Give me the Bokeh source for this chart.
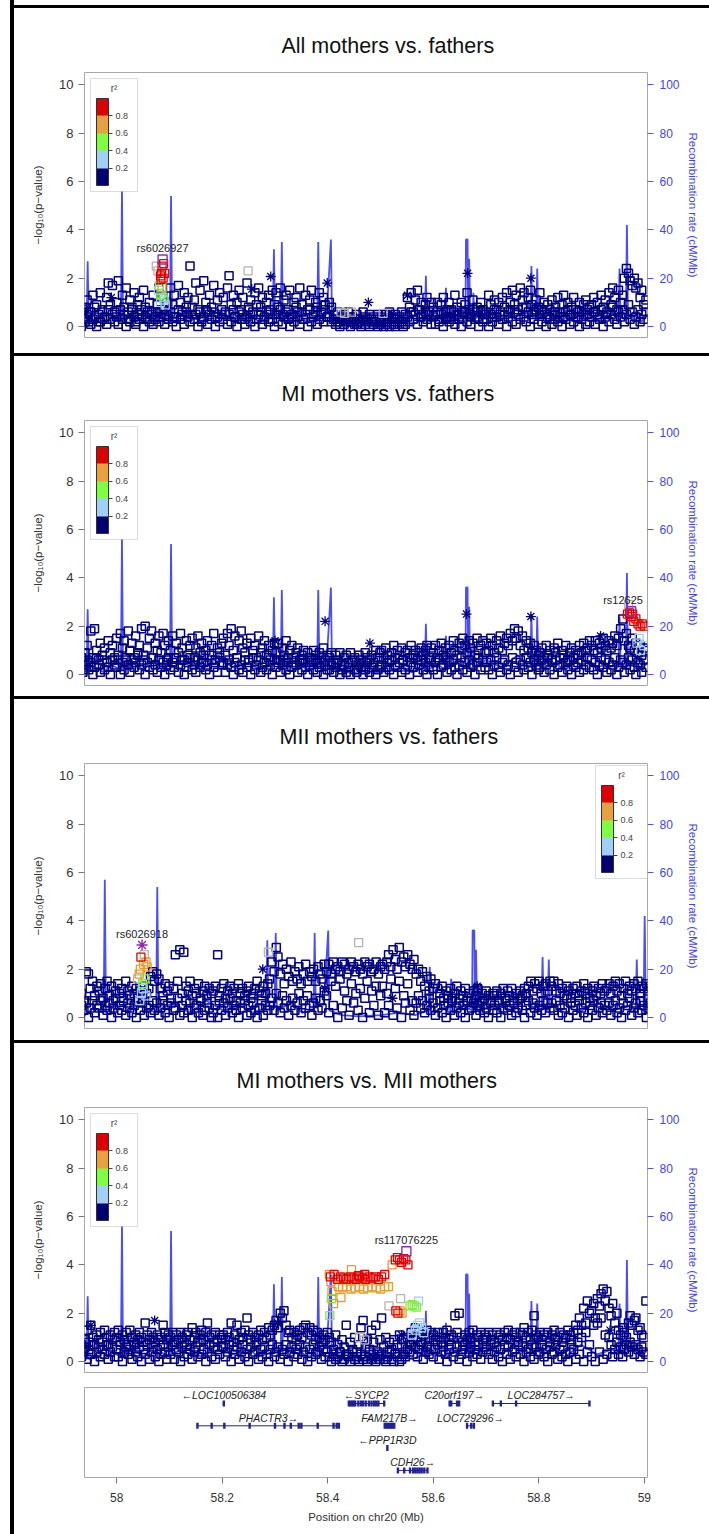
from bokeh.plotting import figure
from bokeh.models import (Range1d, LinearAxis, ColorBar, LinearColorMapper, FixedTicker,
                          Spacer, NumeralTickFormatter, BoxAnnotation, Label)
from bokeh.layouts import column, row
from bokeh.core.properties import value
from bokeh.embed import file_html
from bokeh.resources import INLINE

FONT = "Liberation Sans"
NAVY = "#000080"
CAT_COLORS = {"lightblue": "#9ecbf3", "green": "#7cf03c", "orange": "#eb9a2d",
              "red": "#e00000", "grey": "#b4b4b4"}
LEAD_COLOR = "#8e2bb0"
REC_COLOR = "#3a3af5"
R2_PALETTE = ["#000070", "#a0d0f8", "#80ff40", "#e8a040", "#dd0000"]

# ---------------- SNP positions (Mb, chr20), grouped by 0.1 Mb -------------
snp_pos = [
    [57.905, 57.909, 57.912, 57.917, 57.921, 57.924, 57.929, 57.933, 57.936, 57.940, 57.944, 57.947, 57.951,
     57.955, 57.958, 57.962, 57.966, 57.969, 57.973, 57.977, 57.981, 57.984, 57.988, 57.992, 57.996],
    [58.000, 58.003, 58.007, 58.011, 58.014, 58.018, 58.022, 58.025, 58.029, 58.033, 58.036, 58.040, 58.043,
     58.047, 58.051, 58.054, 58.058, 58.062, 58.066, 58.069, 58.073, 58.077, 58.080, 58.084, 58.088, 58.091,
     58.095, 58.098],
    [58.102, 58.106, 58.109, 58.113, 58.117, 58.121, 58.124, 58.128, 58.132, 58.135, 58.139, 58.143, 58.147,
     58.150, 58.154, 58.158, 58.161, 58.165, 58.169, 58.172, 58.176, 58.180, 58.184, 58.187, 58.191, 58.195, 58.199],
    [58.202, 58.206, 58.210, 58.213, 58.217, 58.221, 58.224, 58.228, 58.232, 58.236, 58.239, 58.243, 58.247,
     58.250, 58.254, 58.258, 58.262, 58.265, 58.269, 58.273, 58.276, 58.280, 58.284, 58.288, 58.291, 58.295, 58.299],
    [58.302, 58.306, 58.310, 58.314, 58.317, 58.321, 58.325, 58.328, 58.332, 58.336, 58.340, 58.343, 58.347,
     58.351, 58.354, 58.358, 58.362, 58.366, 58.369, 58.373, 58.377, 58.380, 58.384, 58.388, 58.392, 58.395, 58.399],
    [58.403, 58.407, 58.411, 58.415, 58.419, 58.423, 58.427, 58.431, 58.435, 58.439, 58.443, 58.447, 58.451,
     58.455, 58.459, 58.463, 58.467, 58.471, 58.475, 58.479, 58.483, 58.487, 58.491, 58.495, 58.499],
    [58.502, 58.506, 58.510, 58.513, 58.517, 58.521, 58.525, 58.528, 58.532, 58.536, 58.540, 58.543, 58.547,
     58.551, 58.555, 58.558, 58.562, 58.566, 58.570, 58.573, 58.577, 58.581, 58.585, 58.588, 58.592, 58.596],
    [58.600, 58.604, 58.608, 58.611, 58.615, 58.619, 58.623, 58.626, 58.630, 58.634, 58.638, 58.641, 58.645,
     58.649, 58.653, 58.656, 58.660, 58.664, 58.668, 58.671, 58.675, 58.679, 58.683, 58.686, 58.690, 58.694, 58.698],
    [58.701, 58.705, 58.709, 58.712, 58.716, 58.720, 58.724, 58.727, 58.731, 58.735, 58.739, 58.742, 58.746,
     58.750, 58.754, 58.757, 58.761, 58.765, 58.769, 58.772, 58.776, 58.780, 58.784, 58.787, 58.791, 58.795, 58.799],
    [58.802, 58.806, 58.810, 58.814, 58.817, 58.821, 58.825, 58.829, 58.832, 58.836, 58.840, 58.844, 58.847,
     58.851, 58.855, 58.859, 58.862, 58.866, 58.870, 58.874, 58.877, 58.881, 58.885, 58.889, 58.892, 58.896],
    [58.900, 58.904, 58.907, 58.911, 58.915, 58.918, 58.922, 58.926, 58.929, 58.933, 58.937, 58.940, 58.944,
     58.948, 58.951, 58.955, 58.959, 58.962, 58.966, 58.970, 58.973, 58.977, 58.981, 58.984, 58.988, 58.992,
     58.995, 58.999, 59.003],
]

# ---------------- recombination rate (cM/Mb) -------------------------------
rec_pos = [57.900, 57.920, 57.943, 57.945, 57.947, 57.960, 57.975, 57.990, 58.008, 58.010, 58.012, 58.030,
           58.050, 58.070, 58.090, 58.101, 58.103, 58.105, 58.130, 58.160, 58.190, 58.220, 58.250, 58.270,
           58.296, 58.298, 58.300, 58.311, 58.313, 58.315, 58.340, 58.360, 58.380, 58.382, 58.384, 58.398,
           58.402, 58.406, 58.408, 58.430, 58.460, 58.500, 58.530, 58.560, 58.584, 58.586, 58.588, 58.610,
           58.622, 58.624, 58.626, 58.645, 58.661, 58.662, 58.665, 58.666, 58.667, 58.668, 58.670, 58.675,
           58.676, 58.678, 58.700, 58.730, 58.760, 58.784, 58.786, 58.788, 58.795, 58.797, 58.799, 58.820,
           58.850, 58.880, 58.910, 58.940, 58.951, 58.953, 58.955, 58.965, 58.967, 58.969, 58.980, 58.995,
           59.006, 59.030]
rec_rate = [3, 5, 1, 27, 1, 3, 1, 4, 2, 57, 2, 5,
            2, 6, 3, 2, 54, 3, 6, 2, 7, 3, 5, 2,
            4, 32, 5, 4, 35, 3, 6, 2, 3, 35, 4, 6,
            20, 36, 3, 1, 0.5, 1, 2, 1, 3, 21, 2, 4,
            2, 16, 2, 5, 3, 36, 36, 3, 4, 28, 3, 2,
            14, 3, 6, 3, 8, 3, 25, 4, 3, 24, 4, 6,
            2, 7, 3, 5, 3, 24, 4, 3, 42, 4, 6, 2,
            5, 3]

# ---------------- Panel 1: All mothers vs. fathers ------------------------
p1_top = [
    [0.3, 0.5, 0.2, 0.7, 0.4, 0.9, 0.1, 0.6, 0.3, 0.8, 1.1, 0.2, 0.6, 1.3, 0.4, 0.9, 0.2, 1.4, 0.7, 0.3, 1.2, 1.8, 0.9, 1.7, 0.6],
    [1.0, 1.9, 0.5, 1.3, 0.8, 1.6, 0.3, 1.1, 0.7, 1.4, 0.2, 0.9, 1.2, 0.5, 1.5, 0.8, 0.3, 1.0, 0.6, 1.3, 0.4, 0.9, 1.6, 0.7, 1.2, 0.5, 1.0, 0.3],
    [1.6, 0.9, 1.3, 0.4, 1.7, 1.0, 0.6, 1.4, 0.8, 1.2, 2.5, 0.5, 1.1, 1.8, 0.7, 1.5, 0.3, 1.9, 1.0, 0.6, 1.3, 0.8, 1.7, 0.4, 1.1, 1.4, 0.7],
    [1.2, 0.5, 1.6, 2.1, 0.9, 1.3, 0.4, 1.0, 1.5, 0.7, 1.2, 0.3, 1.8, 0.8, 1.1, 0.5, 1.4, 0.9, 1.6, 0.6, 1.2, 0.3, 1.0, 1.3, 0.7, 1.5, 0.9],
    [1.4, 0.8, 1.6, 0.5, 1.1, 1.3, 0.7, 1.5, 0.4, 1.0, 1.2, 0.6, 1.6, 0.9, 0.3, 1.3, 0.7, 1.1, 1.5, 0.5, 1.0, 0.8, 1.4, 0.6, 1.2, 0.9, 0.4],
    [1.0, 0.8, 0.5, 0.3, 0.6, 0.2, 0.4, 0.5, 0.3, 0.6, 0.2, 0.4, 0.1, 0.5, 0.3, 0.2, 0.6, 0.4, 0.3, 0.5, 0.2, 0.4, 0.3, 0.5, 0.2],
    [0.4, 0.3, 0.5, 0.2, 0.6, 0.4, 0.3, 0.5, 0.2, 0.4, 0.6, 0.3, 0.5, 1.2, 0.8, 1.4, 0.6, 1.1, 1.5, 0.7, 1.0, 0.5, 0.9, 1.2, 0.6, 1.0],
    [0.8, 0.5, 1.0, 0.3, 0.9, 1.2, 0.6, 0.4, 1.0, 0.7, 0.3, 1.3, 0.8, 0.5, 1.0, 0.6, 0.9, 1.4, 0.7, 0.4, 1.1, 0.6, 0.8, 0.3, 1.0, 0.7, 0.5],
    [0.6, 1.3, 0.9, 0.4, 1.1, 0.7, 1.0, 0.5, 1.2, 0.8, 1.4, 0.6, 1.0, 1.5, 0.9, 1.3, 0.7, 1.6, 1.1, 1.4, 0.8, 1.2, 1.5, 0.9, 0.6, 1.1, 0.8],
    [1.4, 0.7, 1.0, 0.5, 0.9, 0.3, 1.1, 0.6, 0.8, 1.2, 0.4, 0.9, 1.3, 0.6, 1.0, 0.5, 0.8, 1.2, 0.7, 0.4, 1.0, 0.6, 0.9, 1.1, 0.5, 0.8],
    [0.9, 1.2, 0.6, 1.0, 0.4, 1.3, 0.8, 1.1, 0.5, 1.4, 0.9, 1.6, 1.2, 0.7, 1.5, 1.0, 1.3, 2.0, 2.4, 2.2, 1.9, 1.7, 2.0, 1.6, 1.8, 1.2, 1.5, 0.9, 1.1],
]
p1_low = [
    [0.2, 0.0, 0.4, 0.1, 0.6, 0.3, 0.5, 0.0, 0.7, 0.2, 0.4, 0.6, 0.1, 0.3, 0.8, 0.0, 0.5, 0.2, 0.6, 0.4, 0.1, 0.7, 0.3, 0.5, 0.2],
    [0.4, 0.1, 0.7, 0.3, 0.5, 0.0, 0.6, 0.2, 0.8, 0.4, 0.1, 0.5, 0.3, 0.7, 0.0, 0.4, 0.6, 0.2, 0.5, 0.1, 0.3, 0.6, 0.2, 0.4, 0.7, 0.1, 0.5, 0.3],
    [0.6, 0.2, 0.4, 0.0, 0.7, 0.3, 0.5, 0.1, 0.6, 0.4, 0.2, 0.8, 0.3, 0.5, 0.0, 0.6, 0.2, 0.4, 0.7, 0.1, 0.5, 0.3, 0.6, 0.0, 0.4, 0.2, 0.5],
    [0.3, 0.6, 0.1, 0.5, 0.2, 0.7, 0.4, 0.0, 0.6, 0.3, 0.5, 0.1, 0.4, 0.7, 0.2, 0.6, 0.0, 0.3, 0.5, 0.8, 0.1, 0.4, 0.6, 0.2, 0.5, 0.3, 0.0],
    [0.5, 0.2, 0.7, 0.1, 0.4, 0.6, 0.3, 0.0, 0.5, 0.2, 0.8, 0.4, 0.1, 0.6, 0.3, 0.5, 0.0, 0.7, 0.2, 0.4, 0.6, 0.1, 0.3, 0.5, 0.2, 0.7, 0.4],
    [0.4, 0.2, 0.3, 0.1, 0.2, 0.0, 0.3, 0.1, 0.2, 0.4, 0.0, 0.2, 0.3, 0.1, 0.2, 0.0, 0.3, 0.1, 0.2, 0.0, 0.3, 0.1, 0.2, 0.0, 0.1],
    [0.2, 0.0, 0.1, 0.3, 0.0, 0.2, 0.1, 0.0, 0.3, 0.1, 0.2, 0.0, 0.1, 0.4, 0.2, 0.6, 0.3, 0.5, 0.1, 0.7, 0.4, 0.2, 0.6, 0.3, 0.5, 0.1],
    [0.4, 0.1, 0.6, 0.2, 0.5, 0.0, 0.3, 0.7, 0.2, 0.4, 0.6, 0.1, 0.5, 0.3, 0.0, 0.4, 0.6, 0.2, 0.5, 0.1, 0.7, 0.3, 0.4, 0.0, 0.6, 0.2, 0.5],
    [0.3, 0.0, 0.5, 0.2, 0.7, 0.4, 0.1, 0.6, 0.3, 0.5, 0.0, 0.4, 0.7, 0.2, 0.6, 0.1, 0.5, 0.3, 0.8, 0.4, 0.2, 0.6, 0.0, 0.5, 0.3, 0.7, 0.1],
    [0.5, 0.2, 0.6, 0.0, 0.4, 0.7, 0.1, 0.3, 0.5, 0.2, 0.6, 0.0, 0.4, 0.3, 0.7, 0.1, 0.5, 0.2, 0.4, 0.6, 0.0, 0.3, 0.5, 0.1, 0.7, 0.2],
    [0.4, 0.6, 0.1, 0.5, 0.3, 0.7, 0.0, 0.4, 0.6, 0.2, 0.5, 0.8, 0.3, 0.1, 0.6, 0.4, 0.7, 0.2, 0.5, 0.9, 0.3, 0.6, 0.1, 0.4, 0.7, 0.2, 0.5, 0.3, 0.6],
]
p1_ld_x = [58.083, 58.085, 58.089, 58.091, 58.084, 58.088, 58.086, 58.075, 58.078, 58.081, 58.084, 58.088,
           58.079, 58.083, 58.090, 58.092, 58.086, 58.249, 58.425, 58.432, 58.445, 58.505]
p1_ld_y = [2.1, 2.2, 2.6, 2.2, 1.95, 2.0, 2.5, 2.5, 2.3, 1.7, 1.3, 1.2,
           1.5, 1.0, 1.1, 0.9, 1.6, 2.3, 0.6, 0.55, 0.6, 0.55]
p1_ld_cat = ["red"] * 7 + ["grey", "grey", "green", "green", "green",
                           "lightblue", "lightblue", "lightblue", "lightblue", "orange", "grey", "grey", "grey", "grey", "grey"]
p1_star_x = [58.256, 58.292, 58.399, 58.477, 58.520, 58.551, 58.665, 58.785, 57.990]
p1_star_y = [1.55, 2.07, 1.8, 1.0, 0.5, 1.3, 2.2, 2.0, 1.2]
p1_lead = ("rs6026927", 58.087, 2.77, "square")

# ---------------- Panel 2: MI mothers vs. fathers -------------------------
p2_top = [
    [0.5, 0.8, 0.3, 0.9, 0.6, 1.0, 0.4, 0.7, 0.2, 0.9, 1.2, 0.5, 1.8, 0.7, 1.9, 1.0, 0.6, 1.3, 0.8, 1.1, 0.5, 1.4, 0.9, 1.2, 0.7],
    [1.5, 0.8, 1.7, 1.1, 1.4, 0.6, 1.8, 1.0, 1.3, 0.7, 1.6, 0.9, 1.2, 1.9, 0.8, 2.0, 1.1, 1.5, 1.8, 0.7, 1.3, 1.0, 1.6, 0.9, 1.7, 1.2, 0.6, 1.4],
    [1.0, 1.6, 0.7, 1.3, 0.9, 1.7, 1.1, 0.6, 1.4, 0.8, 1.2, 1.5, 0.7, 1.1, 1.6, 0.9, 1.3, 0.5, 1.0, 1.4, 0.8, 1.2, 1.7, 0.6, 1.1, 0.9, 1.3],
    [1.5, 0.8, 1.7, 1.2, 1.9, 1.0, 1.6, 0.7, 1.4, 1.8, 1.1, 0.9, 1.3, 0.6, 1.5, 1.0, 1.2, 0.7, 1.6, 0.9, 1.1, 1.4, 0.8, 1.2, 0.6, 1.0, 1.3],
    [0.9, 1.3, 0.6, 1.1, 0.8, 1.4, 0.7, 1.0, 1.2, 0.5, 0.9, 1.1, 0.6, 0.8, 1.0, 0.5, 0.9, 0.7, 0.6, 1.0, 0.8, 0.5, 0.9, 0.7, 1.1, 0.6, 0.8],
    [0.7, 0.9, 0.5, 0.8, 0.6, 0.9, 0.4, 0.7, 0.8, 0.5, 0.9, 0.6, 0.7, 0.4, 0.8, 0.6, 0.5, 0.9, 0.7, 0.6, 0.8, 0.5, 1.0, 0.7, 0.9],
    [1.0, 0.7, 1.1, 0.8, 0.6, 0.9, 1.2, 0.7, 1.0, 0.8, 1.1, 0.6, 0.9, 1.0, 0.7, 1.2, 0.8, 1.0, 0.6, 0.9, 1.1, 0.8, 1.0, 1.2, 0.7, 1.1],
    [0.9, 1.2, 0.7, 1.0, 1.3, 0.8, 1.1, 0.6, 1.2, 0.9, 1.4, 1.0, 0.8, 1.3, 1.1, 1.5, 1.2, 0.9, 1.4, 1.1, 1.3, 0.8, 1.5, 1.0, 1.2, 1.4, 0.9],
    [1.3, 1.0, 1.5, 1.2, 0.9, 1.4, 1.1, 1.6, 1.0, 1.3, 1.5, 1.2, 1.7, 1.4, 1.9, 1.5, 1.8, 1.2, 1.6, 1.0, 1.4, 1.1, 1.3, 0.9, 1.2, 1.0, 0.8],
    [0.9, 1.1, 0.7, 1.2, 0.8, 1.0, 0.6, 1.1, 0.9, 1.3, 0.7, 1.0, 0.8, 1.2, 0.6, 0.9, 1.1, 0.7, 1.0, 0.8, 1.2, 0.9, 1.3, 1.0, 1.1, 1.4],
    [1.2, 1.0, 1.4, 0.9, 1.3, 1.1, 1.5, 1.2, 1.0, 1.4, 1.1, 1.3, 1.6, 1.2, 1.5, 1.9, 2.3, 1.4, 1.7, 1.2, 1.1, 1.5, 1.0, 1.3, 0.9, 1.2, 0.8, 1.1, 1.0],
]
p2_low = [
    [0.1, 0.4, 0.2, 0.6, 0.0, 0.5, 0.3, 0.7, 0.1, 0.4, 0.6, 0.2, 0.5, 0.0, 0.3, 0.7, 0.4, 0.1, 0.6, 0.2, 0.5, 0.3, 0.0, 0.6, 0.4],
    [0.3, 0.6, 0.0, 0.5, 0.2, 0.7, 0.4, 0.1, 0.6, 0.3, 0.5, 0.8, 0.2, 0.4, 0.6, 0.0, 0.5, 0.3, 0.7, 0.2, 0.4, 0.1, 0.6, 0.3, 0.5, 0.0, 0.4, 0.7],
    [0.2, 0.5, 0.3, 0.7, 0.1, 0.4, 0.6, 0.0, 0.3, 0.5, 0.7, 0.2, 0.4, 0.1, 0.6, 0.3, 0.5, 0.8, 0.2, 0.4, 0.0, 0.6, 0.3, 0.5, 0.1, 0.7, 0.4],
    [0.5, 0.1, 0.4, 0.6, 0.3, 0.0, 0.5, 0.7, 0.2, 0.4, 0.1, 0.6, 0.3, 0.5, 0.0, 0.7, 0.2, 0.4, 0.6, 0.1, 0.3, 0.5, 0.2, 0.7, 0.4, 0.0, 0.6],
    [0.3, 0.5, 0.1, 0.4, 0.6, 0.2, 0.5, 0.0, 0.3, 0.7, 0.4, 0.1, 0.5, 0.2, 0.6, 0.3, 0.0, 0.4, 0.5, 0.2, 0.6, 0.1, 0.3, 0.5, 0.0, 0.4, 0.2],
    [0.2, 0.4, 0.1, 0.3, 0.5, 0.0, 0.2, 0.4, 0.1, 0.3, 0.0, 0.5, 0.2, 0.1, 0.4, 0.3, 0.0, 0.2, 0.5, 0.1, 0.3, 0.4, 0.0, 0.2, 0.3],
    [0.4, 0.1, 0.3, 0.5, 0.2, 0.6, 0.0, 0.4, 0.3, 0.5, 0.1, 0.6, 0.2, 0.4, 0.0, 0.5, 0.3, 0.7, 0.1, 0.4, 0.6, 0.2, 0.5, 0.0, 0.3, 0.6],
    [0.2, 0.5, 0.0, 0.6, 0.3, 0.4, 0.7, 0.1, 0.5, 0.2, 0.6, 0.3, 0.0, 0.4, 0.7, 0.2, 0.5, 0.1, 0.6, 0.3, 0.4, 0.0, 0.5, 0.7, 0.2, 0.6, 0.3],
    [0.5, 0.2, 0.6, 0.0, 0.4, 0.7, 0.3, 0.1, 0.5, 0.6, 0.2, 0.4, 0.0, 0.7, 0.3, 0.5, 0.1, 0.6, 0.4, 0.2, 0.7, 0.3, 0.5, 0.0, 0.6, 0.4, 0.2],
    [0.3, 0.6, 0.1, 0.4, 0.7, 0.2, 0.5, 0.0, 0.6, 0.3, 0.4, 0.1, 0.7, 0.5, 0.2, 0.6, 0.0, 0.4, 0.3, 0.5, 0.1, 0.6, 0.2, 0.4, 0.7, 0.3],
    [0.6, 0.2, 0.5, 0.0, 0.4, 0.7, 0.3, 0.6, 0.1, 0.5, 0.2, 0.4, 0.7, 0.0, 0.3, 0.6, 0.5, 0.1, 0.4, 0.7, 0.2, 0.6, 0.3, 0.0, 0.5, 0.4, 0.1, 0.6, 0.3],
]
p2_ld_x = [58.968, 58.972, 58.976, 58.980, 58.984, 58.988, 58.992, 58.996, 59.000, 58.978, 58.970,
           58.986, 58.993, 58.999, 58.990]
p2_ld_y = [2.5, 2.55, 2.4, 2.2, 2.3, 2.1, 2.0, 2.1, 2.0, 2.5, 2.9, 1.3, 1.0, 1.2, 1.5]
p2_ld_cat = ["red"] * 10 + ["grey", "lightblue", "lightblue", "lightblue", "lightblue"]
p2_star_x = [58.395, 58.480, 58.663, 58.785, 58.917, 58.300]
p2_star_y = [2.2, 1.3, 2.5, 2.4, 1.6, 1.4]
p2_lead = ("rs12625", 58.975, 2.62, "square")

# ---------------- Panel 3: MII mothers vs. fathers ------------------------
p3_top = [
    [0.5, 0.8, 0.4, 0.9, 0.6, 1.0, 0.3, 0.7, 0.5, 0.8, 1.0, 0.4, 0.9, 0.6, 1.1, 0.5, 0.8, 1.0, 0.7, 1.9, 1.8, 1.2, 1.5, 0.9, 1.3],
    [1.1, 1.4, 0.8, 1.2, 1.5, 0.9, 1.3, 0.7, 1.1, 1.4, 1.0, 1.2, 0.8, 1.5, 1.1, 0.9, 1.3, 1.0, 1.2, 0.8, 1.1, 0.9, 1.3, 1.0, 1.2, 1.7, 1.9, 1.5],
    [1.8, 1.6, 1.2, 0.9, 1.4, 1.1, 1.3, 0.8, 1.2, 2.6, 1.5, 2.8, 1.0, 2.7, 1.3, 1.1, 1.5, 0.9, 1.2, 1.0, 1.4, 0.8, 1.1, 1.3, 0.9, 1.2, 1.0],
    [1.1, 1.3, 2.6, 0.9, 1.2, 1.4, 0.8, 1.1, 1.3, 1.0, 1.2, 0.7, 1.4, 1.0, 1.2, 0.9, 1.1, 1.3, 0.8, 1.0, 1.2, 1.5, 1.1, 0.9, 1.3, 1.0, 1.4],
    [1.6, 2.3, 1.9, 2.9, 2.5, 1.8, 2.2, 1.4, 2.0, 1.7, 2.3, 1.5, 1.9, 1.6, 2.1, 1.4, 1.8, 2.2, 1.5, 1.9, 1.7, 2.0, 1.5, 2.1, 1.8, 1.6, 2.2],
    [1.9, 2.2, 1.8, 2.3, 2.0, 2.1, 1.9, 2.3, 2.2, 1.8, 2.0, 2.3, 2.1, 1.9, 2.2, 2.0, 1.8, 2.3, 2.1, 2.2, 1.9, 2.0, 2.3, 1.8, 2.1],
    [2.2, 2.0, 2.3, 2.6, 2.1, 2.8, 2.4, 2.0, 2.9, 2.3, 2.5, 2.1, 2.6, 2.2, 2.0, 2.4, 1.8, 2.0, 1.5, 1.9, 1.3, 1.7, 1.1, 1.6, 1.2, 1.4],
    [1.2, 1.0, 1.3, 0.8, 1.1, 0.9, 1.2, 0.7, 1.0, 1.3, 0.8, 1.1, 0.9, 1.2, 0.7, 1.0, 0.8, 1.1, 0.9, 1.2, 0.6, 1.0, 0.8, 1.1, 0.9, 0.7, 1.0],
    [0.9, 1.1, 0.7, 1.0, 1.2, 0.8, 1.1, 0.9, 1.2, 0.7, 1.0, 0.8, 1.1, 0.9, 1.2, 1.0, 1.3, 1.5, 1.1, 1.4, 1.2, 1.5, 1.0, 1.3, 1.4, 1.1, 1.5],
    [1.3, 1.5, 1.1, 1.4, 1.0, 1.2, 0.9, 1.3, 1.1, 0.8, 1.2, 1.0, 1.3, 0.9, 1.1, 1.4, 1.0, 1.2, 0.8, 1.1, 1.3, 0.9, 1.2, 1.0, 1.4, 1.1],
    [1.2, 1.4, 1.0, 1.3, 1.5, 1.1, 1.4, 0.9, 1.2, 1.5, 1.0, 1.3, 1.1, 1.4, 1.2, 1.5, 1.0, 1.3, 1.2, 1.4, 1.1, 1.3, 1.0, 1.2, 0.9, 1.1, 0.8, 1.0, 0.9],
]
p3_low = [
    [0.3, 0.0, 0.5, 0.2, 0.6, 0.1, 0.4, 0.7, 0.2, 0.5, 0.0, 0.3, 0.6, 0.4, 0.1, 0.7, 0.2, 0.5, 0.3, 0.6, 0.0, 0.4, 0.7, 0.2, 0.5],
    [0.4, 0.7, 0.1, 0.5, 0.3, 0.6, 0.0, 0.4, 0.8, 0.2, 0.5, 0.3, 0.7, 0.1, 0.6, 0.4, 0.2, 0.5, 0.0, 0.7, 0.3, 0.6, 0.1, 0.4, 0.5, 0.2, 0.7, 0.3],
    [0.6, 0.1, 0.4, 0.7, 0.2, 0.5, 0.0, 0.6, 0.3, 0.4, 0.8, 0.1, 0.5, 0.2, 0.7, 0.3, 0.6, 0.0, 0.4, 0.5, 0.2, 0.7, 0.1, 0.3, 0.6, 0.4, 0.0],
    [0.2, 0.5, 0.0, 0.7, 0.3, 0.6, 0.1, 0.4, 0.8, 0.2, 0.5, 0.3, 0.0, 0.6, 0.4, 0.7, 0.1, 0.5, 0.2, 0.6, 0.3, 0.0, 0.4, 0.7, 0.1, 0.5, 0.3],
    [0.5, 0.8, 0.3, 1.0, 0.6, 0.2, 0.9, 0.4, 0.7, 0.1, 0.5, 0.8, 0.3, 0.6, 1.0, 0.2, 0.7, 0.4, 0.9, 0.5, 0.1, 0.6, 0.8, 0.3, 0.7, 0.4, 1.1],
    [0.9, 0.2, 1.5, 0.5, 1.3, 0.0, 1.6, 0.4, 1.1, 0.7, 0.1, 1.4, 0.6, 1.0, 0.3, 1.2, 0.0, 0.8, 1.5, 0.2, 1.1, 0.5, 1.3, 0.1, 0.9],
    [1.3, 0.2, 1.0, 0.5, 1.6, 0.1, 1.2, 0.4, 1.5, 0.0, 0.9, 0.6, 1.4, 0.3, 0.7, 0.1, 0.6, 0.9, 0.4, 0.7, 0.2, 0.5, 0.8, 0.3, 0.6, 0.1],
    [0.4, 0.7, 0.2, 0.5, 0.0, 0.6, 0.3, 0.8, 0.1, 0.4, 0.6, 0.2, 0.5, 0.0, 0.7, 0.3, 0.4, 0.6, 0.1, 0.5, 0.3, 0.7, 0.2, 0.4, 0.0, 0.6, 0.3],
    [0.5, 0.2, 0.6, 0.0, 0.4, 0.7, 0.3, 0.5, 0.1, 0.6, 0.2, 0.4, 0.8, 0.3, 0.0, 0.5, 0.7, 0.2, 0.6, 0.4, 0.1, 0.5, 0.3, 0.7, 0.2, 0.6, 0.4],
    [0.6, 0.3, 0.7, 0.1, 0.5, 0.2, 0.4, 0.8, 0.0, 0.6, 0.3, 0.5, 0.1, 0.7, 0.4, 0.2, 0.6, 0.0, 0.5, 0.3, 0.7, 0.1, 0.4, 0.6, 0.2, 0.5],
    [0.3, 0.6, 0.1, 0.5, 0.7, 0.2, 0.4, 0.0, 0.6, 0.3, 0.5, 0.8, 0.1, 0.4, 0.6, 0.2, 0.7, 0.3, 0.5, 0.0, 0.4, 0.6, 0.2, 0.5, 0.3, 0.1, 0.6, 0.4, 0.2],
]
p3_ld_x = [58.073, 58.079, 58.083, 58.085, 58.071, 58.080, 58.068, 58.077, 58.081, 58.078, 58.072,
           58.083, 58.075, 58.074, 58.460, 58.300]
p3_ld_y = [2.0, 2.2, 2.3, 2.1, 1.8, 2.6, 1.6, 1.4, 1.6, 1.2, 0.7, 0.9, 1.0, 2.5, 3.1, 2.7]
p3_ld_cat = ["orange"] * 5 + ["grey", "grey", "green", "green",
                              "lightblue", "lightblue", "lightblue", "lightblue", "red", "grey", "grey"]
p3_star_x = [58.290, 58.400, 58.670, 58.520]
p3_star_y = [2.0, 1.2, 1.3, 0.8]
p3_lead = ("rs6026918", 58.076, 3.0, "asterisk")

# ---------------- Panel 4: MI mothers vs. MII mothers ---------------------
p4_top = [
    [0.5, 0.7, 0.4, 0.8, 0.6, 0.9, 0.3, 0.7, 0.5, 0.9, 1.3, 0.8, 1.5, 1.0, 0.7, 1.1, 0.9, 1.2, 0.8, 1.3, 1.0, 0.7, 1.1, 0.9, 1.2],
    [1.0, 1.3, 0.8, 1.1, 0.9, 1.2, 0.7, 1.3, 1.0, 0.8, 1.1, 0.9, 1.2, 1.0, 0.8, 1.6, 1.1, 0.9, 1.2, 1.0, 0.8, 1.1, 0.9, 1.0, 1.5, 1.2, 0.9, 1.1],
    [1.0, 1.2, 0.8, 1.1, 0.9, 1.2, 1.0, 0.8, 1.1, 1.2, 0.9, 1.4, 1.0, 1.2, 0.8, 1.1, 1.3, 0.9, 1.2, 1.6, 1.0, 1.1, 0.8, 1.2, 0.9, 1.1, 1.0],
    [1.1, 0.9, 1.2, 1.0, 1.6, 0.8, 1.1, 1.5, 0.9, 1.2, 1.0, 1.3, 1.8, 1.1, 0.9, 1.2, 1.0, 0.8, 1.1, 1.3, 0.9, 1.2, 1.0, 1.4, 1.1, 1.3, 1.5],
    [1.7, 1.4, 2.0, 1.8, 2.1, 1.5, 1.2, 1.3, 1.0, 1.2, 0.9, 1.1, 1.3, 1.0, 1.4, 1.5, 1.2, 1.4, 1.1, 1.3, 0.9, 1.2, 1.0, 0.8, 1.1, 0.9, 1.2],
    [1.0, 0.8, 0.5, 1.1, 0.7, 0.4, 0.9, 0.6, 1.5, 0.3, 0.8, 0.5, 1.0, 0.4, 0.7, 1.4, 1.7, 0.6, 0.9, 0.5, 1.3, 0.8, 1.5, 0.4, 0.9],
    [1.8, 0.6, 1.0, 0.4, 0.8, 0.5, 0.9, 0.3, 0.7, 1.1, 0.6, 0.9, 0.4, 1.0, 0.8, 1.2, 0.9, 1.4, 1.0, 1.2, 0.8, 1.1, 0.9, 1.3, 1.0, 1.2],
    [1.1, 0.9, 1.2, 1.0, 0.8, 1.2, 1.0, 1.3, 0.9, 1.1, 1.0, 1.9, 1.2, 2.0, 1.0, 0.8, 1.1, 0.9, 1.2, 1.0, 1.3, 0.8, 1.1, 1.0, 1.2, 0.9, 1.1],
    [1.0, 1.2, 0.9, 1.1, 0.8, 1.2, 1.0, 1.1, 0.9, 1.2, 1.0, 1.3, 0.9, 1.1, 1.2, 1.0, 0.8, 1.2, 1.1, 1.4, 1.0, 1.2, 0.9, 1.3, 1.9, 1.1, 1.0],
    [1.2, 0.9, 1.1, 1.0, 1.2, 0.8, 1.1, 1.3, 0.9, 1.0, 1.2, 0.8, 1.1, 1.0, 1.3, 1.1, 0.9, 1.2, 1.5, 1.3, 1.8, 1.5, 2.2, 1.6, 2.5, 2.0],
    [2.1, 2.4, 1.8, 2.6, 2.3, 2.8, 3.0, 2.5, 2.9, 2.2, 1.9, 2.4, 1.6, 2.0, 1.3, 1.1, 1.4, 1.2, 1.0, 1.6, 1.9, 1.5, 1.7, 1.8, 1.3, 1.4, 1.1, 1.0, 2.5],
]
p4_low = [
    [0.4, 0.1, 0.6, 0.3, 0.5, 0.0, 0.7, 0.2, 0.4, 0.6, 0.1, 0.5, 0.3, 0.7, 0.0, 0.4, 0.6, 0.2, 0.5, 0.3, 0.7, 0.1, 0.4, 0.6, 0.2],
    [0.5, 0.2, 0.7, 0.0, 0.4, 0.6, 0.3, 0.5, 0.1, 0.7, 0.4, 0.2, 0.6, 0.0, 0.5, 0.3, 0.7, 0.1, 0.4, 0.6, 0.2, 0.5, 0.0, 0.3, 0.7, 0.4, 0.1, 0.6],
    [0.3, 0.7, 0.1, 0.5, 0.4, 0.0, 0.6, 0.2, 0.7, 0.3, 0.5, 0.1, 0.4, 0.6, 0.2, 0.8, 0.3, 0.5, 0.0, 0.4, 0.7, 0.2, 0.6, 0.1, 0.5, 0.3, 0.6],
    [0.6, 0.2, 0.4, 0.7, 0.0, 0.5, 0.3, 0.6, 0.1, 0.4, 0.7, 0.2, 0.5, 0.0, 0.6, 0.3, 0.4, 0.7, 0.1, 0.5, 0.2, 0.6, 0.3, 0.0, 0.5, 0.7, 0.2],
    [0.4, 0.6, 0.1, 0.5, 0.3, 0.7, 0.0, 0.4, 0.6, 0.2, 0.5, 0.3, 0.7, 0.1, 0.4, 0.6, 0.0, 0.5, 0.2, 0.7, 0.3, 0.4, 0.6, 0.1, 0.5, 0.2, 0.4],
    [0.2, 0.0, 0.3, 0.1, 0.2, 0.4, 0.0, 0.1, 0.3, 0.2, 0.0, 0.4, 0.1, 0.2, 0.0, 0.3, 0.1, 0.2, 0.0, 0.4, 0.1, 0.3, 0.0, 0.2, 0.1],
    [0.3, 0.1, 0.0, 0.2, 0.4, 0.1, 0.0, 0.3, 0.2, 0.0, 0.1, 0.3, 0.2, 0.5, 0.4, 0.7, 0.3, 0.6, 0.2, 0.5, 0.7, 0.1, 0.4, 0.6, 0.3, 0.5],
    [0.2, 0.5, 0.7, 0.1, 0.4, 0.6, 0.3, 0.0, 0.5, 0.7, 0.2, 0.4, 0.6, 0.1, 0.3, 0.5, 0.7, 0.0, 0.4, 0.6, 0.2, 0.5, 0.3, 0.7, 0.1, 0.4, 0.6],
    [0.5, 0.3, 0.7, 0.1, 0.4, 0.6, 0.2, 0.5, 0.0, 0.7, 0.3, 0.6, 0.1, 0.4, 0.5, 0.2, 0.7, 0.3, 0.6, 0.0, 0.4, 0.5, 0.2, 0.7, 0.1, 0.6, 0.3],
    [0.4, 0.7, 0.2, 0.5, 0.0, 0.6, 0.3, 0.4, 0.7, 0.1, 0.5, 0.2, 0.6, 0.3, 0.0, 0.4, 0.7, 0.5, 0.1, 0.8, 0.3, 1.0, 0.0, 1.2, 0.4, 0.7],
    [0.2, 1.5, 0.0, 1.6, 0.4, 1.8, 0.1, 1.1, 0.3, 1.0, 0.7, 0.2, 0.5, 0.8, 0.3, 0.6, 0.2, 0.5, 0.7, 0.4, 0.8, 0.6, 0.3, 0.7, 0.5, 0.2, 0.6, 0.4, 0.3],
]
p4_ld_x = [58.405, 58.412, 58.418, 58.424, 58.430, 58.436, 58.442, 58.448, 58.454, 58.460, 58.466, 58.472,
           58.478, 58.484, 58.490, 58.496, 58.502, 58.508, 58.470, 58.458,
           58.528, 58.532, 58.536, 58.540, 58.544, 58.548, 58.552, 58.529, 58.533,
           58.403, 58.406, 58.408, 58.411, 58.420, 58.428, 58.436, 58.444, 58.452, 58.460, 58.468, 58.476,
           58.484, 58.492, 58.500, 58.508, 58.515, 58.445, 58.425, 58.522, 58.537, 58.541,
           58.404, 58.407, 58.556, 58.560, 58.564, 58.568,
           58.566, 58.570, 58.574, 58.578, 58.582, 58.572, 58.560,
           58.516, 58.538, 58.460, 58.470]
p4_ld_y = [3.5, 3.6, 3.4, 3.5, 3.45, 3.4, 3.5, 3.45, 3.4, 3.5, 3.45, 3.4,
           3.5, 3.45, 3.5, 3.4, 3.5, 3.6, 3.6, 3.55,
           4.2, 4.3, 4.2, 4.1, 4.25, 4.2, 4.0, 2.1, 2.0,
           3.6, 3.3, 2.9, 2.4, 3.1, 3.05, 3.1, 3.0, 3.05, 3.1, 3.0, 3.05,
           3.1, 3.05, 3.0, 3.1, 3.1, 3.8, 2.65, 4.0, 2.1, 2.0,
           1.9, 2.6, 2.3, 2.35, 2.3, 2.25,
           1.3, 1.5, 1.6, 1.4, 1.2, 2.5, 1.1,
           2.3, 2.6, 1.0, 0.9]
p4_ld_cat = (["red"] * 29 + ["orange"] * 22 + ["green"] * 6 + ["lightblue"] * 7 + ["grey"] * 4)
p4_star_x = [57.951, 58.072, 58.305, 58.475, 58.490, 58.540, 58.485, 58.935]
p4_star_y = [1.5, 1.7, 1.6, 1.0, 0.3, 1.1, 0.1, 1.3]
p4_lead = ("rs117076225", 58.549, 4.56, "square")

# ---------------- genes --------------------------------------------------
gene_names = ["LOC100506384", "SYCP2", "C20orf197", "LOC284757", "PHACTR3", "FAM217B",
              "LOC729296", "PPP1R3D", "CDH26"]
gene_start = [58.201, 58.438, 58.630, 58.712, 58.153, 58.507, 58.663, 58.512, 58.532]
gene_end = [58.205, 58.508, 58.650, 58.897, 58.422, 58.527, 58.678, 58.514, 58.590]
gene_strand = ["-", "-", "+", "+", "+", "+", "+", "-", "+"]
gene_row = [1, 1, 1, 1, 2, 2, 2, 3, 4]
gene_exons = [
    [58.203],
    [58.440, 58.443, 58.446, 58.449, 58.452, 58.458, 58.463, 58.467, 58.472, 58.478, 58.483, 58.488,
     58.492, 58.496, 58.507],
    [58.631, 58.634, 58.645, 58.649],
    [58.713, 58.728, 58.757, 58.896],
    [58.153, 58.180, 58.204, 58.252, 58.300, 58.318, 58.330, 58.345, 58.350, 58.381, 58.411, 58.417, 58.421],
    [58.508, 58.511, 58.514, 58.517, 58.520, 58.523, 58.526],
    [58.664, 58.672, 58.677],
    [58.513],
    [58.533, 58.545, 58.556, 58.562, 58.566, 58.570, 58.574, 58.578, 58.583, 58.589],
]

X_MAIN = (57.939, 59.006)
X_P3 = (57.974, 58.972)
W = 695
FRAME_H = 265
MB_LEFT = 70
MB_RIGHT = 62


def flatten(chunks_x, chunks_y):
    xs, ys = [], []
    for cx, cy in zip(chunks_x, chunks_y):
        for a, b in zip(cx, cy):
            xs.append(a)
            ys.append(b)
    return xs, ys


def add_legend(p, left, top, box_w):
    # legend box (screen units relative to the plot frame, y measured from frame bottom)
    box = BoxAnnotation(left=left, right=left + box_w, top=FRAME_H - top, bottom=FRAME_H - top - 113,
                        left_units="screen", right_units="screen", top_units="screen",
                        bottom_units="screen", fill_color="white", fill_alpha=1.0,
                        line_color="#8a8a8a", line_width=1, level="annotation")
    p.add_layout(box)
    mapper = LinearColorMapper(palette=R2_PALETTE, low=0, high=1)
    cb = ColorBar(color_mapper=mapper, ticker=FixedTicker(ticks=[0.2, 0.4, 0.6, 0.8]),
                  width=12, height=87, location=(left + 6, FRAME_H - top - 107), margin=0,
                  padding=0, border_line_color=None, background_fill_color=None,
                  background_fill_alpha=0,
                  major_label_text_font=FONT, major_label_text_font_size="9px",
                  major_label_text_color="#444444", major_tick_line_color="#444444",
                  major_tick_in=0, major_tick_out=4, minor_tick_line_color=None,
                  bar_line_color="#333333", label_standoff=3)
    p.add_layout(cb)
    lab = Label(x=left + box_w / 2, y=FRAME_H - top - 10, x_units="screen", y_units="screen", text="r²",
                text_font=FONT, text_font_size="10px", text_color="#444444",
                text_align="center", text_baseline="middle")
    p.add_layout(lab)


def assoc_panel(title, top, low, ld_x, ld_y, ld_cat, star_x, star_y, lead, xr, height,
                btop, bbot, legend_pos, title_offset):
    p = figure(width=W, height=height, x_range=Range1d(*xr), y_range=Range1d(-0.45, 10.5),
               output_backend="svg", toolbar_location=None, x_axis_location=None,
               min_border_left=MB_LEFT, min_border_right=MB_RIGHT, min_border_top=btop,
               min_border_bottom=bbot, title=title)
    p.title.align = "left"
    p.title.offset = title_offset
    p.title.text_font = FONT
    p.title.text_font_size = "21.5px"
    p.title.text_font_style = "normal"
    p.title.text_color = "#111111"
    p.title.standoff = 29
    p.xgrid.visible = False
    p.ygrid.visible = False
    p.outline_line_color = "#a8a8a8"
    p.outline_line_width = 1
    p.background_fill_color = "white"
    p.border_fill_color = "white"

    p.extra_y_ranges = {"rec": Range1d(-4.5, 105)}

    # recombination rate
    p.line(rec_pos, rec_rate, y_range_name="rec", line_color=REC_COLOR, line_width=1.8, line_alpha=0.9)

    lx, ly = flatten(snp_pos, low)
    p.scatter(lx, ly, marker="square", size=8, fill_color=None, line_color=NAVY, line_width=1.5)
    tx, ty = flatten(snp_pos, top)
    p.scatter(tx, ty, marker="square", size=8, fill_color=None, line_color=NAVY, line_width=1.5)
    p.scatter(star_x, star_y, marker="asterisk", size=10, line_color=NAVY, line_width=1.3)

    for cat in ["grey", "lightblue", "green", "orange", "red"]:
        cx = [x for x, c in zip(ld_x, ld_cat) if c == cat]
        cy = [y for y, c in zip(ld_y, ld_cat) if c == cat]
        if cx:
            p.scatter(cx, cy, marker="square", size=8, fill_color=None,
                      line_color=CAT_COLORS[cat], line_width=1.3)

    name, lxp, lyp, mk = lead
    p.scatter([lxp], [lyp], marker=mk, size=9 if mk == "square" else 11, fill_color=None,
              line_color=LEAD_COLOR, line_width=1.4)
    if name == "rs12625":
        p.text([lxp], [lyp + 0.46], text=[name], text_font=value(FONT), text_font_size="11px",
               text_color="#222222", text_align="left", text_baseline="middle", x_offset=-28)
    else:
        p.text([lxp], [lyp + 0.46], text=[name], text_font=value(FONT), text_font_size="11px",
               text_color="#222222", text_align="center", text_baseline="middle")

    # left axis
    ly_ax = p.left[0]
    ly_ax.ticker = FixedTicker(ticks=[0, 2, 4, 6, 8, 10])
    ly_ax.axis_label = "−log₁₀(p−value)"
    ly_ax.axis_line_color = None
    ly_ax.major_tick_out = 6
    ly_ax.major_tick_in = 0
    ly_ax.major_tick_line_color = "#777777"
    ly_ax.minor_tick_line_color = None
    ly_ax.major_label_text_font = FONT
    ly_ax.major_label_text_font_size = "13px"
    ly_ax.major_label_text_color = "#333333"
    ly_ax.major_label_standoff = 5
    ly_ax.axis_label_text_font = FONT
    ly_ax.axis_label_text_font_size = "11.5px"
    ly_ax.axis_label_text_font_style = "normal"
    ly_ax.axis_label_text_color = "#333333"
    ly_ax.axis_label_standoff = 12

    rax = LinearAxis(y_range_name="rec", ticker=FixedTicker(ticks=[0, 20, 40, 60, 80, 100]),
                     axis_label="Recombination rate (cM/Mb)")
    rax.axis_line_color = None
    rax.major_tick_out = 6
    rax.major_tick_in = 0
    rax.major_tick_line_color = "#5555ee"
    rax.minor_tick_line_color = None
    rax.major_label_text_font = FONT
    rax.major_label_text_font_size = "12px"
    rax.major_label_text_color = "#4444ee"
    rax.major_label_standoff = 6
    rax.axis_label_text_font = FONT
    rax.axis_label_text_font_size = "11.5px"
    rax.axis_label_text_font_style = "normal"
    rax.axis_label_text_color = "#4444ee"
    rax.axis_label_standoff = 4
    p.add_layout(rax, "right")

    add_legend(p, *legend_pos)
    return p


p1 = assoc_panel("All mothers vs. fathers", p1_top, p1_low, p1_ld_x, p1_ld_y, p1_ld_cat,
                 p1_star_x, p1_star_y, p1_lead, X_MAIN, 345, 64, 16, (6, 6, 47), 197)
p2 = assoc_panel("MI mothers vs. fathers", p2_top, p2_low, p2_ld_x, p2_ld_y, p2_ld_cat,
                 p2_star_x, p2_star_y, p2_lead, X_MAIN, 340, 64, 11, (6, 6, 47), 197)
p3 = assoc_panel("MII mothers vs. fathers", p3_top, p3_low, p3_ld_x, p3_ld_y, p3_ld_cat,
                 p3_star_x, p3_star_y, p3_lead, X_P3, 341, 64, 12, (511, 2, 52), 195)
p4 = assoc_panel("MI mothers vs. MII mothers", p4_top, p4_low, p4_ld_x, p4_ld_y, p4_ld_cat,
                 p4_star_x, p4_star_y, p4_lead, X_MAIN, 337, 64, 8, (6, 6, 47), 152)

# ---------------- gene track ----------------------------------------------
g = figure(width=W, height=154, x_range=Range1d(*X_MAIN), y_range=Range1d(4.318, 0.283),
           output_backend="svg", toolbar_location=None, y_axis_location=None,
           min_border_left=MB_LEFT, min_border_right=MB_RIGHT, min_border_top=7, min_border_bottom=57)
g.xgrid.visible = False
g.ygrid.visible = False
g.outline_line_color = "#a8a8a8"
GENE_COLOR = "#20209a"
g.segment(x0=gene_start, y0=gene_row, x1=gene_end, y1=gene_row, line_color=GENE_COLOR, line_width=1)
ex_x, ex_y = [], []
for exs, r in zip(gene_exons, gene_row):
    for e in exs:
        ex_x.append(e)
        ex_y.append(r)
g.rect(x=ex_x, y=ex_y, width=2.4, height=6, width_units="screen", height_units="screen",
       fill_color=GENE_COLOR, line_color=None)
labels = [("←" + n) if s == "-" else (n + "→") for n, s in zip(gene_names, gene_strand)]
g.text([(a + b) / 2 for a, b in zip(gene_start, gene_end)], [r - 0.37 for r in gene_row], text=labels,
       text_font=value(FONT), text_font_size="10.5px", text_font_style="italic", text_color="#222222",
       text_align="center", text_baseline="middle")
ax = g.xaxis[0]
ax.ticker = FixedTicker(ticks=[58, 58.2, 58.4, 58.6, 58.8, 59])
ax.formatter = NumeralTickFormatter(format="0.[0]")
ax.axis_line_color = None
ax.major_tick_out = 6
ax.major_tick_in = 0
ax.major_tick_line_color = "#777777"
ax.minor_tick_line_color = None
ax.major_label_text_font = FONT
ax.major_label_text_font_size = "12px"
ax.major_label_text_color = "#333333"
ax.major_label_standoff = 9
ax.axis_label = "Position on chr20 (Mb)"
ax.axis_label_text_font = FONT
ax.axis_label_text_font_size = "11.5px"
ax.axis_label_text_font_style = "normal"
ax.axis_label_text_color = "#333333"
ax.axis_label_standoff = 6


def black(w, h):
    return Spacer(width=w, height=h, styles={"background-color": "black"})


col = column(Spacer(width=W, height=5), black(W, 3), p1, black(W, 3), p2, black(W, 3), p3,
             black(W, 3), p4, g, spacing=0)
layout = row(Spacer(width=10, height=1534), black(4, 1534), col, spacing=0)

open("out.html", "w").write(file_html(layout, INLINE))
